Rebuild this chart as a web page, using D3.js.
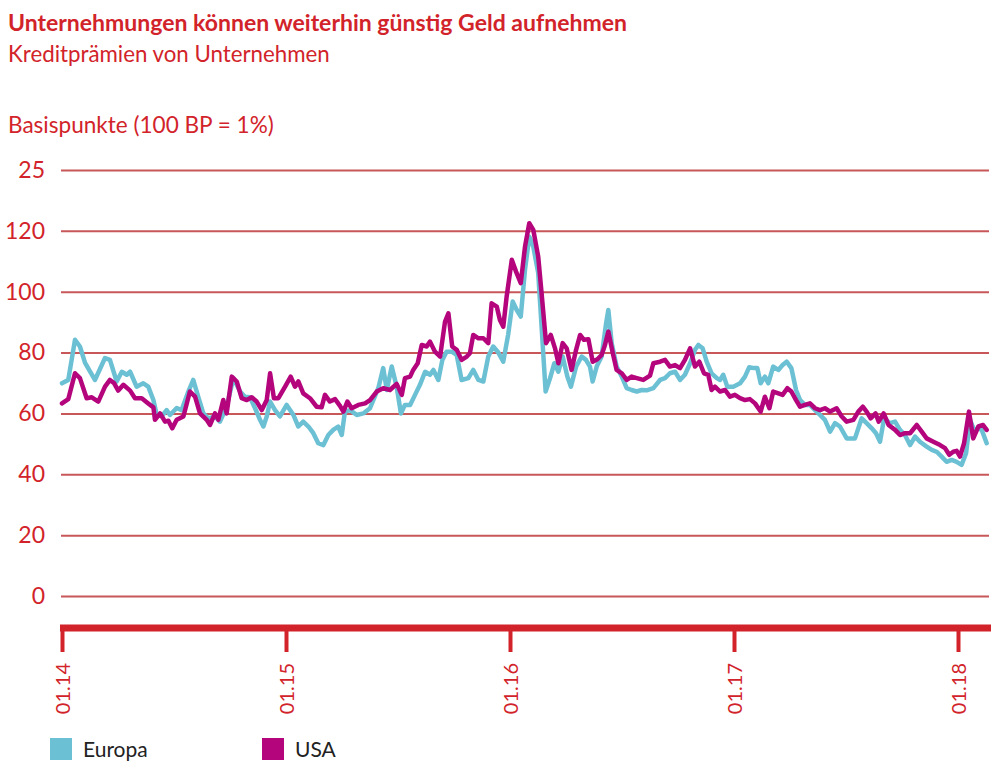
<!DOCTYPE html>
<html>
<head>
<meta charset="utf-8">
<script src="https://cdn.jsdelivr.net/npm/d3@7"></script>
<style>
  body { margin: 0; background: #fff; }
  svg text { font-family: Lato, "Open Sans", sans-serif; }
</style>
</head>
<body>
<div id="chart"></div>
<script>
// decimal years, values in basis points
let europaDates = [2014.000,2014.028,2014.058,2014.080,2014.103,2014.147,2014.192,2014.214,2014.244,2014.267,2014.289,2014.304,2014.333,2014.363,2014.385,2014.408,2014.423,2014.445,2014.467,2014.482,2014.512,2014.534,2014.564,2014.586,2014.608,2014.631,2014.653,2014.683,2014.705,2014.735,2014.765,2014.795,2014.817,2014.839,2014.862,2014.884,2014.899,2014.914,2014.929,2014.951,2014.973,2015.003,2015.033,2015.055,2015.077,2015.100,2015.122,2015.144,2015.167,2015.189,2015.211,2015.233,2015.249,2015.263,2015.286,2015.316,2015.345,2015.375,2015.412,2015.434,2015.450,2015.472,2015.494,2015.513,2015.531,2015.554,2015.576,2015.598,2015.621,2015.643,2015.658,2015.680,2015.698,2015.717,2015.740,2015.762,2015.784,2015.814,2015.836,2015.859,2015.881,2015.903,2015.925,2015.948,2015.970,2015.992,2016.012,2016.030,2016.048,2016.067,2016.086,2016.104,2016.126,2016.141,2016.159,2016.179,2016.198,2016.216,2016.235,2016.256,2016.272,2016.295,2016.320,2016.339,2016.357,2016.369,2016.387,2016.409,2016.429,2016.439,2016.454,2016.476,2016.499,2016.521,2016.543,2016.566,2016.588,2016.610,2016.640,2016.670,2016.692,2016.714,2016.737,2016.759,2016.781,2016.804,2016.826,2016.841,2016.860,2016.878,2016.900,2016.923,2016.938,2016.952,2016.970,2016.997,2017.027,2017.049,2017.068,2017.089,2017.104,2017.119,2017.138,2017.153,2017.175,2017.198,2017.217,2017.235,2017.256,2017.277,2017.295,2017.317,2017.339,2017.362,2017.384,2017.406,2017.429,2017.451,2017.473,2017.503,2017.540,2017.570,2017.592,2017.615,2017.634,2017.652,2017.670,2017.696,2017.719,2017.741,2017.763,2017.786,2017.808,2017.830,2017.860,2017.883,2017.905,2017.927,2017.949,2017.972,2017.994,2018.016,2018.036,2018.054,2018.071,2018.091,2018.106,2018.128];
let europaValues = [69.9,71,84.2,82,76.6,71,78.2,77.6,70.5,73.7,72.7,73.7,68.8,69.9,68.8,64.4,59.5,59,61.1,59.5,61.8,61.1,67.2,71,65.5,60,58.4,59,57.3,62.2,71.6,67.2,65.5,65.3,61.7,57.9,55.7,59,63.9,61.1,59,62.8,59.5,55.7,57.3,55.7,53.5,50.2,49.6,52.9,54.6,55.7,52.9,60.6,61.1,59.5,60,61.7,68.3,74.9,67.7,75.4,68.8,60,62.8,62.8,66.1,69.4,73.7,72.7,74.3,71,77.6,80.3,80.3,79.2,71,71.6,74.3,71,70.5,78.7,82,80,77,86,96.8,94,91.8,107.2,118.1,114.8,106.1,88.5,67.2,71.6,76.5,73.7,78.7,72.1,68.8,75.4,78.7,77.6,75.4,70.5,75.4,78.7,89.6,94,83.1,75.4,72.1,68.3,67.7,67.2,67.7,67.6,68.3,71,71.6,73.2,73.7,71,72.7,76.5,80.9,82.5,81.4,77,73.2,71.6,71,72.7,68.8,68.8,69.9,72.1,75.2,74.9,74.9,69.9,72.1,69.9,75.4,74.3,75.9,77,74.9,67.7,64.4,62.8,62.8,61.1,59.5,57.9,54,56.8,55.7,51.8,51.8,58.4,56.8,55.1,53.5,50.7,58.4,56.8,57.3,54.6,52.9,49.6,52.4,50.7,49.1,48,47.4,45.8,44.1,44.7,44.1,43.1,46.9,57.9,54.6,55.1,54.6,50.2];

let usaDates = [2014.000,2014.028,2014.058,2014.080,2014.110,2014.133,2014.162,2014.192,2014.214,2014.233,2014.251,2014.274,2014.304,2014.326,2014.356,2014.385,2014.408,2014.415,2014.438,2014.460,2014.475,2014.492,2014.512,2014.542,2014.571,2014.594,2014.616,2014.646,2014.661,2014.683,2014.698,2014.720,2014.735,2014.758,2014.780,2014.802,2014.825,2014.847,2014.869,2014.892,2014.914,2014.929,2014.946,2014.966,2014.996,2015.021,2015.040,2015.055,2015.077,2015.107,2015.137,2015.159,2015.174,2015.196,2015.219,2015.241,2015.256,2015.274,2015.293,2015.323,2015.353,2015.375,2015.405,2015.434,2015.464,2015.494,2015.517,2015.531,2015.554,2015.568,2015.588,2015.606,2015.628,2015.643,2015.665,2015.688,2015.710,2015.725,2015.742,2015.762,2015.784,2015.807,2015.821,2015.836,2015.859,2015.881,2015.903,2015.918,2015.941,2015.955,2015.970,2015.985,2016.008,2016.027,2016.048,2016.067,2016.086,2016.104,2016.126,2016.141,2016.161,2016.182,2016.201,2016.216,2016.235,2016.253,2016.275,2016.295,2016.313,2016.330,2016.350,2016.369,2016.390,2016.409,2016.424,2016.439,2016.459,2016.476,2016.499,2016.521,2016.543,2016.566,2016.595,2016.625,2016.640,2016.670,2016.692,2016.714,2016.737,2016.759,2016.781,2016.804,2016.826,2016.845,2016.866,2016.885,2016.900,2016.915,2016.938,2016.960,2016.982,2017.004,2017.027,2017.049,2017.071,2017.094,2017.119,2017.138,2017.158,2017.175,2017.198,2017.217,2017.238,2017.256,2017.277,2017.295,2017.317,2017.339,2017.362,2017.384,2017.406,2017.429,2017.458,2017.481,2017.503,2017.533,2017.555,2017.575,2017.592,2017.610,2017.632,2017.646,2017.668,2017.690,2017.719,2017.741,2017.763,2017.786,2017.816,2017.838,2017.860,2017.890,2017.920,2017.942,2017.961,2017.979,2017.994,2018.009,2018.027,2018.049,2018.068,2018.091,2018.112,2018.128];
let usaValues = [63.3,64.7,73.2,71.6,65,65.3,63.9,68.8,71,69.9,67.5,69.4,67.5,65,65,63.3,62,57.9,60,57.3,57.6,55.1,57.9,59,67.2,65.5,60,57.9,56.2,60,57.9,64.4,60,72.1,70.5,65,64.4,65.3,63.9,61.1,64.4,73.2,65,65,68.8,72.1,68.8,70.5,66.6,65,62.2,62,66.1,63.9,64.7,62.5,60.6,63.9,61.7,62.8,63.3,64.4,67.2,68.3,67.7,69.7,66.1,71.6,72.1,74.3,76.5,82.5,82,83.6,80.3,78.7,90.2,92.9,82,80.9,77.6,78.7,79.8,85.8,84.7,84.7,83.1,96.2,95.1,90.7,88.5,98.4,110.5,106.6,102.8,114.8,122.5,120.3,111.5,99.5,83.1,85.8,81.4,76.5,83.1,81.4,74.3,80.9,85.8,84.2,84.4,77,77.8,79.2,82.5,86.9,79.8,74.3,73.2,71,72.1,71.6,71,72.4,76.5,77,77.6,75.4,75.9,74.9,77.6,81.4,75.4,77,73.2,72.7,67.7,68.8,67.2,67.7,65.5,66.1,65,64.4,64.7,63.3,60.6,65.5,61.7,67.2,66.6,66.1,68.3,67.2,64.4,62.2,62.8,63.3,61.7,61.1,61.7,60.6,61.7,59,57.3,57.9,60.6,62.2,60.6,58.4,60,57.3,60,56.2,54.6,52.9,53.5,53.5,56.2,54,51.8,50.7,49.6,48.6,46.4,47.4,47.7,45.8,50.2,60.6,51.8,55.7,56.2,54.6];

let yTicks = [0, 20, 40, 60, 80, 100, 120, 140];
let yTickLabels = ["0", "20", "40", "60", "80", "100", "120", "25"];
let xTicks = [2014, 2015, 2016, 2017, 2018];
let xTickLabels = ["01.14", "01.15", "01.16", "01.17", "01.18"];
let seriesNames = ["Europa", "USA"];
let seriesColors = ["#6cc0d4", "#b4057c"];

let red = "#d2232a";
let gridColor = "#c8575a";

let svg = d3.select("#chart").append("svg")
    .attr("width", 999)
    .attr("height", 770);

// fit a text element to a given width by adjusting font-size
function fitText(sel, targetWidth) {
    let w = sel.node().getComputedTextLength();
    let fs = parseFloat(sel.attr("font-size"));
    sel.attr("font-size", fs * targetWidth / w);
}

let title = svg.append("text").attr("x", 8).attr("y", 31)
    .attr("font-size", 22).attr("font-weight", "bold").attr("fill", red)
    .text("Unternehmungen können weiterhin günstig Geld aufnehmen");
fitText(title, 619);
let subtitle = svg.append("text").attr("x", 8).attr("y", 62)
    .attr("font-size", 22).attr("fill", red)
    .text("Kreditprämien von Unternehmen");
fitText(subtitle, 322);
let unit = svg.append("text").attr("x", 8).attr("y", 133)
    .attr("font-size", 22).attr("fill", red)
    .text("Basispunkte (100 BP = 1%)");
fitText(unit, 266);

let x = d3.scaleLinear().domain([2014, 2018]).range([62, 958]);
let y = d3.scaleLinear().domain([0, 140]).range([596, 170]);

// gridlines + y labels
let yAxis = d3.axisLeft(y)
    .tickValues(yTicks)
    .tickSize(-928)
    .tickPadding(16)
    .tickFormat(function(d, i) { return yTickLabels[i]; });
let gy = svg.append("g")
    .attr("transform", "translate(61,0)")
    .call(yAxis);
gy.select(".domain").remove();
gy.selectAll(".tick line").attr("stroke", gridColor).attr("stroke-width", 2);
gy.selectAll(".tick text")
    .attr("fill", red)
    .attr("font-size", 23)
    .attr("font-family", "Lato, 'Open Sans', sans-serif");

// x axis
let xAxis = d3.axisBottom(x)
    .tickValues(xTicks)
    .tickSize(24)
    .tickSizeOuter(0)
    .tickFormat(function(d, i) { return xTickLabels[i]; });
let gx = svg.append("g")
    .attr("transform", "translate(0,628)")
    .call(xAxis);
gx.select(".domain")
    .attr("d", "M60,0H991")
    .attr("stroke", red)
    .attr("stroke-width", 7);
gx.selectAll(".tick line").attr("stroke", red).attr("stroke-width", 4);
gx.selectAll(".tick text")
    .attr("fill", red)
    .attr("font-size", 20)
    .attr("font-family", "Lato, 'Open Sans', sans-serif")
    .attr("transform", "rotate(-90)")
    .attr("x", -35)
    .attr("y", 0)
    .attr("dy", "0.35em")
    .style("text-anchor", "end");

// lines
let line = d3.line()
    .x(function(d) { return x(d[0]); })
    .y(function(d) { return y(d[1]); });

let series = [
    d3.zip(europaDates, europaValues),
    d3.zip(usaDates, usaValues)
];

svg.selectAll(".series")
    .data(series)
    .enter().append("path")
    .attr("class", "series")
    .attr("d", line)
    .attr("fill", "none")
    .attr("stroke", function(d, i) { return seriesColors[i]; })
    .attr("stroke-width", 4.5)
    .attr("stroke-linejoin", "round")
    .attr("stroke-linecap", "round");

// legend
let legend = svg.selectAll(".legend")
    .data(seriesNames)
    .enter().append("g")
    .attr("class", "legend")
    .attr("transform", function(d, i) { return "translate(" + (50 + i * 212) + ",738)"; });
legend.append("rect")
    .attr("width", 22).attr("height", 22)
    .attr("fill", function(d, i) { return seriesColors[i]; });
legend.append("text")
    .attr("x", 33).attr("y", 19)
    .attr("font-size", 21)
    .attr("fill", "#222")
    .text(function(d) { return d; });
</script>
</body>
</html>
